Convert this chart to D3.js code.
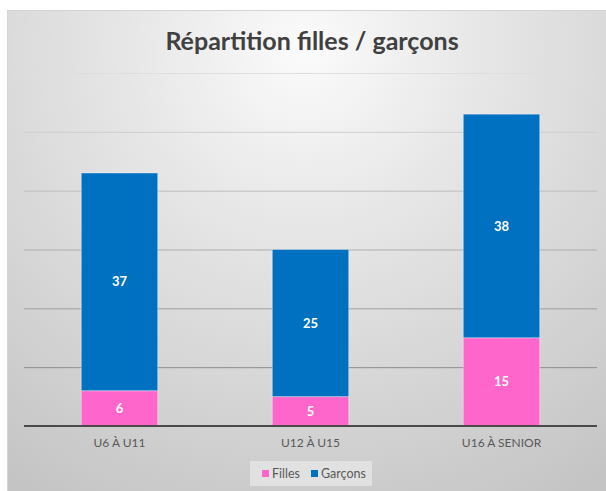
<!DOCTYPE html>
<html>
<head>
<meta charset="utf-8">
<script src="https://cdn.jsdelivr.net/npm/d3@7"></script>
<style>
  body { margin: 0; background: #fff; }
  svg { display: block; font-family: Lato, "Open Sans", sans-serif; }
</style>
</head>
<body>
<svg id="chart"></svg>
<script>
// Data
var categories = ["U6 À U11", "U12 À U15", "U16 À SENIOR"]
var filles = [6, 5, 15]
var garcons = [37, 25, 38]
var seriesNames = ["Filles", "Garçons"]
var yTicks = [0, 10, 20, 30, 40, 50, 60]

// Colors
var fillesColor = "#ff66cc"
var garconsColor = "#0070c0"
var textColor = "#595959"

var width = 606
var height = 491
var margin = {top: 73, right: 9, bottom: 65, left: 24}

var svg = d3.select("#chart")
    .attr("width", width)
    .attr("height", height)

// background gradient
var defs = svg.append("defs")
var grad = defs.append("radialGradient")
    .attr("id", "bg")
    .attr("gradientUnits", "userSpaceOnUse")
    .attr("cx", 305).attr("cy", 50).attr("r", 520)
grad.append("stop").attr("offset", "0%").attr("stop-color", "#fbfbfb")
grad.append("stop").attr("offset", "35%").attr("stop-color", "#e6e6e6")
grad.append("stop").attr("offset", "100%").attr("stop-color", "#c4c4c4")

svg.append("rect")
    .attr("x", 7.5).attr("y", 10.5)
    .attr("width", width - 7).attr("height", height - 10)
    .attr("fill", "url(#bg)")
    .attr("stroke", "#d4d4d4")

var x = d3.scaleBand()
    .domain(categories)
    .range([margin.left, width - margin.right])
    .paddingInner(0.6)
    .paddingOuter(0.3)

var y = d3.scaleLinear()
    .domain([0, 60])
    .range([height - margin.bottom, margin.top])

var gridColor = d3.scaleLinear()
    .domain([60, 10])
    .range(["#dedede", "#8e8e8e"])

// gridlines
svg.append("g")
    .selectAll("line")
    .data(yTicks.filter(d => d > 0))
    .enter().append("line")
    .attr("x1", margin.left)
    .attr("x2", width - margin.right)
    .attr("y1", d => y(d) + 0.5)
    .attr("y2", d => y(d) + 0.5)
    .style("stroke", d => gridColor(d))
    .style("stroke-width", "1px")

// stacked data
var rows = categories.map(function(c, i) {
    return {cat: c, Filles: filles[i], "Garçons": garcons[i]}
})
var stack = d3.stack().keys(seriesNames)(rows)
var colors = {"Filles": fillesColor, "Garçons": garconsColor}

var layer = svg.append("g")
    .selectAll("g")
    .data(stack)
    .enter().append("g")
    .attr("fill", d => colors[d.key])

layer.selectAll("rect")
    .data(d => d)
    .enter().append("rect")
    .attr("x", d => x(d.data.cat))
    .attr("y", d => y(d[1]))
    .attr("width", x.bandwidth())
    .attr("height", d => y(d[0]) - y(d[1]))
    .style("stroke", "rgba(255,255,255,0.35)")
    .style("stroke-width", "1px")

// data labels
layer.selectAll("text")
    .data(d => d)
    .enter().append("text")
    .attr("x", d => x(d.data.cat) + x.bandwidth() / 2)
    .attr("y", d => (y(d[0]) + y(d[1])) / 2)
    .attr("dy", "0.35em")
    .attr("text-anchor", "middle")
    .style("fill", "#fff")
    .style("font-size", "13px")
    .style("font-weight", "bold")
    .text(d => d[1] - d[0])

// baseline
svg.append("line")
    .attr("x1", margin.left)
    .attr("x2", width - margin.right)
    .attr("y1", y(0))
    .attr("y2", y(0))
    .style("stroke", "#4a4a4a")
    .style("stroke-width", "2px")

// category axis
var xAxis = svg.append("g")
    .attr("transform", "translate(0," + y(0) + ")")
    .call(d3.axisBottom(x).tickSize(0).tickPadding(12))
xAxis.select(".domain").remove()
xAxis.selectAll("text")
    .style("font-family", "Lato, sans-serif")
    .style("font-size", "12px")
    .style("fill", textColor)

// title
svg.append("text")
    .attr("x", 312)
    .attr("y", 50)
    .attr("text-anchor", "middle")
    .style("font-size", "25px")
    .style("font-weight", "bold")
    .style("fill", "#404040")
    .text("Répartition filles / garçons")

// legend
svg.append("rect")
    .attr("x", 250).attr("y", 461)
    .attr("width", 122).attr("height", 25)
    .attr("fill", "#ffffff")
    .attr("fill-opacity", 0.4)
var legend = svg.append("g")

var legendX = [262, 311]
seriesNames.forEach(function(name, i) {
    legend.append("rect")
        .attr("x", legendX[i])
        .attr("y", 470)
        .attr("width", 7)
        .attr("height", 7)
        .attr("fill", colors[name])
    legend.append("text")
        .attr("x", legendX[i] + 10)
        .attr("y", 478)
        .style("font-size", "12.5px")
        .style("fill", textColor)
        .text(name)
})
</script>
</body>
</html>
